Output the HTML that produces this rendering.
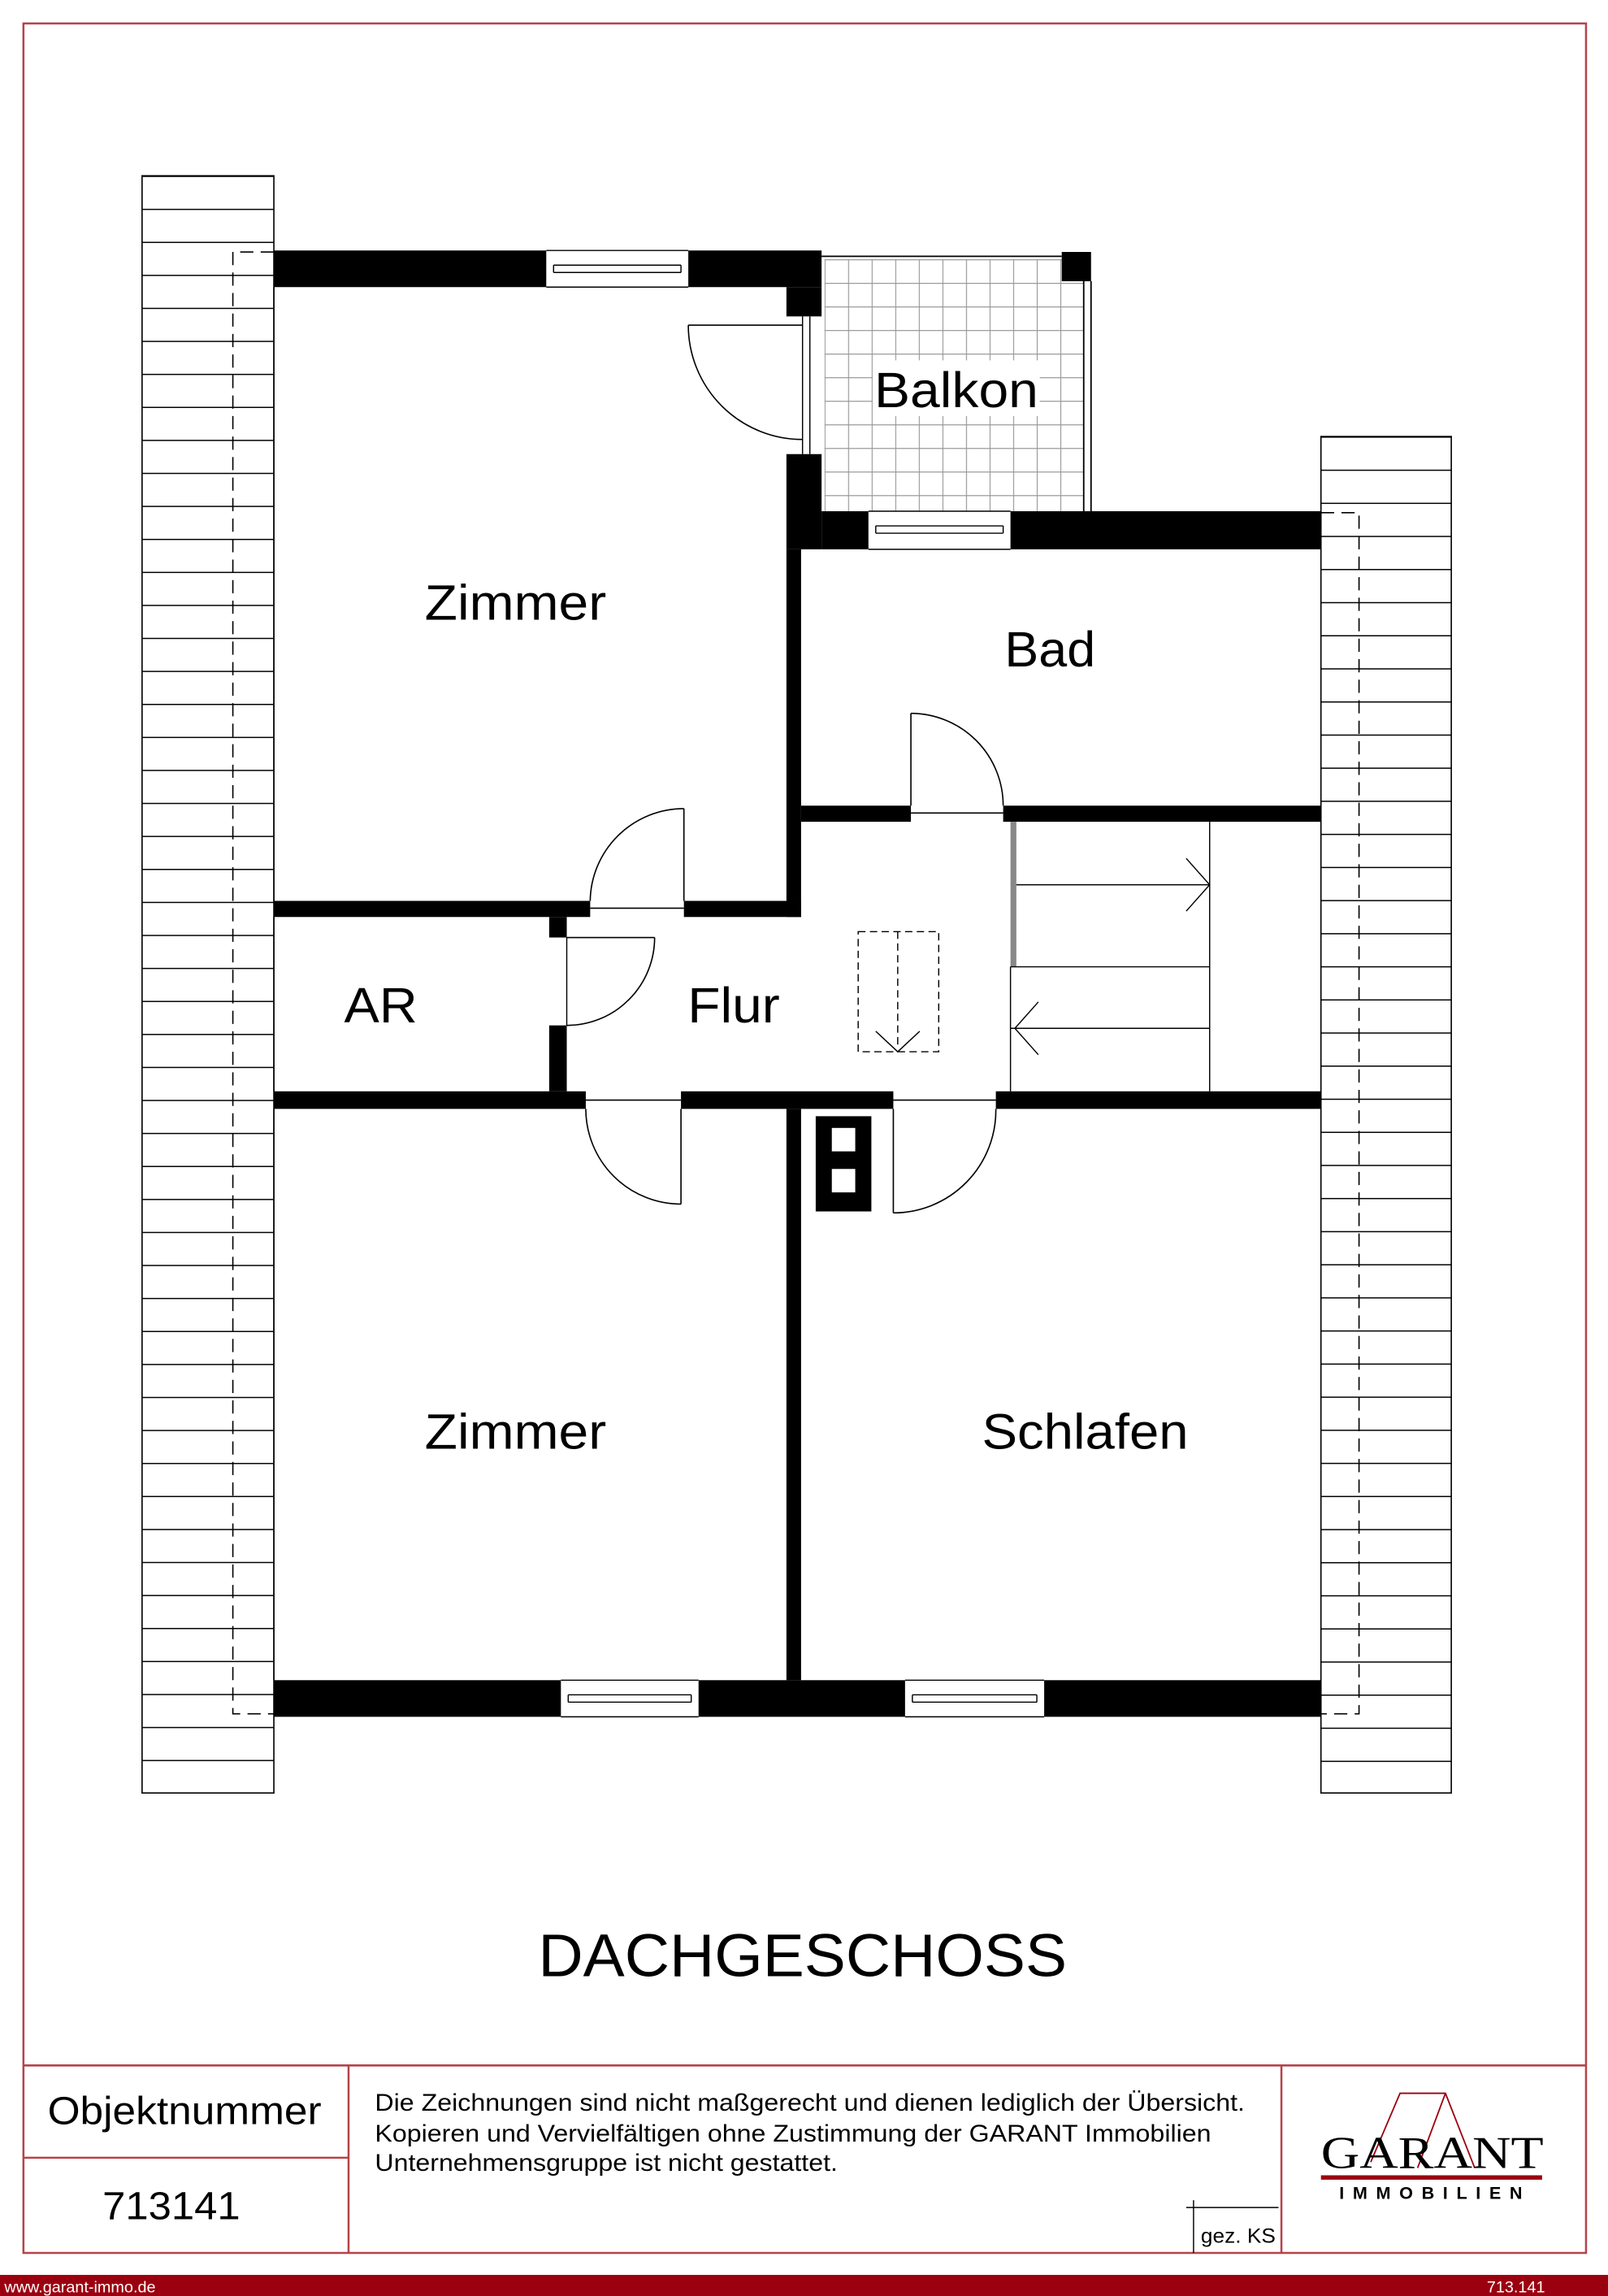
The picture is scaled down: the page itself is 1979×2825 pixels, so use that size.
<!DOCTYPE html>
<html><head><meta charset="utf-8"><style>
html,body{margin:0;padding:0;background:#fff}
svg{display:block}
text{font-family:"Liberation Sans Narrow","Liberation Sans",sans-serif;fill:#000}
</style></head><body>
<svg width="1979" height="2825" viewBox="0 0 1098 1567.4" xmlns="http://www.w3.org/2000/svg">
<defs>
<pattern id="hl" patternUnits="userSpaceOnUse" width="200" height="22.53" patternTransform="translate(0,120)">
<line x1="0" y1="0.4" x2="200" y2="0.4" stroke="#000" stroke-width="0.8"/></pattern>
<pattern id="hr" patternUnits="userSpaceOnUse" width="200" height="22.6" patternTransform="translate(0,298)">
<line x1="0" y1="0.4" x2="200" y2="0.4" stroke="#000" stroke-width="0.8"/></pattern>
<pattern id="tile" patternUnits="userSpaceOnUse" width="16.1" height="16.1" patternTransform="translate(563,177)">
<path d="M0 0.3H16.1M0.3 0V16.1" stroke="#999" stroke-width="0.7" fill="none"/></pattern>
</defs>
<rect x="0" y="0" width="1098" height="1568" fill="#fff"/>
<!-- frame -->
<g stroke="#b5444a" stroke-width="1.4" fill="none">
<rect x="16" y="16" width="1067" height="1522"/>
<line x1="16" y1="1410" x2="1083" y2="1410"/>
<line x1="238" y1="1410" x2="238" y2="1538"/>
<line x1="875" y1="1410" x2="875" y2="1538"/>
<line x1="16" y1="1473" x2="238" y2="1473"/>
</g>
<rect x="0" y="1553" width="1098" height="15" fill="#9b0010"/>
<text x="3" y="1565" font-size="11" style="fill:#fff">www.garant-immo.de</text>
<text x="1055" y="1565" font-size="11" text-anchor="end" style="fill:#fff">713.141</text>

<!-- roof hatches -->
<rect x="97" y="120" width="90" height="1104" fill="url(#hl)" stroke="#000" stroke-width="0.9"/>
<rect x="902" y="298" width="89" height="926" fill="url(#hr)" stroke="#000" stroke-width="0.9"/>
<g stroke="#000" stroke-width="0.9" stroke-dasharray="9,5" fill="none">
<path d="M187 172H159V1170H187"/>
<path d="M902 350H928V1170H902"/>
</g>

<!-- balcony -->
<rect x="563" y="177" width="177" height="172" fill="url(#tile)"/>
<line x1="561" y1="175" x2="725" y2="175" stroke="#000" stroke-width="1"/>
<rect x="725" y="172" width="20" height="20" fill="#000"/>
<line x1="740" y1="192" x2="740" y2="349" stroke="#000" stroke-width="1"/>
<line x1="745" y1="192" x2="745" y2="349" stroke="#000" stroke-width="1"/>
<rect x="596" y="246" width="114" height="38" fill="#fff"/>
<text x="653" y="278" font-size="34" text-anchor="middle" textLength="112" lengthAdjust="spacingAndGlyphs">Balkon</text>

<!-- walls -->
<g fill="#000">
<rect x="187" y="171" width="186" height="25"/>
<rect x="470" y="171" width="91" height="25"/>
<rect x="537" y="196" width="24" height="20"/>
<rect x="537" y="310" width="24" height="65"/>
<rect x="561" y="349" width="32" height="26"/>
<rect x="690" y="349" width="212" height="26"/>
<rect x="537" y="375" width="10" height="251"/>
<rect x="187" y="615" width="216" height="11"/>
<rect x="467" y="615" width="80" height="11"/>
<rect x="547" y="550" width="75" height="11"/>
<rect x="685" y="550" width="217" height="11"/>
<rect x="375" y="626" width="12" height="14"/>
<rect x="375" y="700" width="12" height="45"/>
<rect x="187" y="745" width="213" height="12"/>
<rect x="465" y="745" width="145" height="12"/>
<rect x="680" y="745" width="222" height="12"/>
<rect x="537" y="757" width="10" height="390"/>
<rect x="187" y="1147" width="196" height="25"/>
<rect x="477" y="1147" width="141" height="25"/>
<rect x="713" y="1147" width="189" height="25"/>
<rect x="557" y="762" width="38" height="65"/>
</g>
<rect x="568" y="770" width="16" height="16" fill="#fff"/>
<rect x="568" y="798" width="16" height="16" fill="#fff"/>

<!-- windows -->
<g stroke="#000" stroke-width="0.8" fill="none">
<path d="M373 171H470M373 196H470M378 181H465M378 186H465M378 181V186M465 181V186"/>
<path d="M593 349H690M593 375H690M598 359H685M598 364H685M598 359V364M685 359V364"/>
<path d="M383 1147H477M383 1172H477M388 1157H472M388 1162H472M388 1157V1162M472 1157V1162"/>
<path d="M618 1147H713M618 1172H713M623 1157H708M623 1162H708M623 1157V1162M708 1157V1162"/>
<path d="M548 216V310M553 216V310"/>
<path d="M187 196V615M187 626V745M187 757V1147"/>
<path d="M387 640V700"/>
</g>

<!-- doors -->
<g stroke="#000" stroke-width="0.9" fill="none">
<path d="M470 222H548"/><path d="M470 222A78 78 0 0 0 548 300"/>
<path d="M467 552V615"/><path d="M403 615A64 64 0 0 1 467 552"/>
<path d="M622 487V550"/><path d="M622 487A63 63 0 0 1 685 550"/>
<path d="M387 640H447"/><path d="M447 640A60 60 0 0 1 387 700"/>
<path d="M465 757V822"/><path d="M400 757A65 65 0 0 0 465 822"/>
<path d="M610 757V828"/><path d="M680 757A70 70 0 0 1 610 828"/>
<path d="M403 620H467M622 555H685M400 751H465M610 751H680"/>
</g>

<!-- stairs -->
<rect x="690" y="561" width="4" height="99" fill="#888"/>
<g stroke="#000" stroke-width="0.8" fill="none">
<path d="M826 561V745"/>
<path d="M694 604H826M690 660H826M690 702H826"/>
<path d="M810 586L826 604L810 622"/>
<path d="M709 684L693 702L709 720"/>
<path d="M690 660V745"/>
</g>
<g stroke="#000" stroke-width="0.8" fill="none" stroke-dasharray="5,3">
<rect x="586" y="636" width="55" height="82"/>
<path d="M613 636V716"/>
</g>
<path d="M598 704L613 718L628 704" stroke="#000" stroke-width="0.8" fill="none"/>

<!-- labels -->
<text x="352" y="423" font-size="34" text-anchor="middle" textLength="124" lengthAdjust="spacingAndGlyphs">Zimmer</text>
<text x="717" y="455" font-size="34" text-anchor="middle" textLength="62" lengthAdjust="spacingAndGlyphs">Bad</text>
<text x="260" y="698" font-size="34" text-anchor="middle" textLength="50" lengthAdjust="spacingAndGlyphs">AR</text>
<text x="501" y="698" font-size="34" text-anchor="middle" textLength="63" lengthAdjust="spacingAndGlyphs">Flur</text>
<text x="352" y="989" font-size="34" text-anchor="middle" textLength="124" lengthAdjust="spacingAndGlyphs">Zimmer</text>
<text x="741" y="989" font-size="34" text-anchor="middle" textLength="141" lengthAdjust="spacingAndGlyphs">Schlafen</text>
<text x="548" y="1349" font-size="41" text-anchor="middle" textLength="361" lengthAdjust="spacingAndGlyphs">DACHGESCHOSS</text>

<!-- footer -->
<text x="126" y="1450" font-size="27" text-anchor="middle" textLength="187" lengthAdjust="spacingAndGlyphs">Objektnummer</text>
<text x="117" y="1515" font-size="27" text-anchor="middle" textLength="94" lengthAdjust="spacingAndGlyphs">713141</text>
<text x="256" y="1441" font-size="16.5" textLength="594" lengthAdjust="spacingAndGlyphs">Die Zeichnungen sind nicht maßgerecht und dienen lediglich der Übersicht.</text>
<text x="256" y="1462" font-size="16.5" textLength="571" lengthAdjust="spacingAndGlyphs">Kopieren und Vervielfältigen ohne Zustimmung der GARANT Immobilien</text>
<text x="256" y="1482" font-size="16.5" textLength="316" lengthAdjust="spacingAndGlyphs">Unternehmensgruppe ist nicht gestattet.</text>
<path d="M815 1502V1538M810 1507H873" stroke="#000" stroke-width="0.8"/>
<text x="820" y="1531" font-size="14" textLength="51" lengthAdjust="spacingAndGlyphs">gez. KS</text>

<!-- logo -->
<path d="M936 1476L956 1429H987L1007 1480M987 1429L968 1480" stroke="#9b0010" stroke-width="1" fill="none"/>
<text x="978" y="1480" font-size="31" text-anchor="middle" textLength="152" lengthAdjust="spacingAndGlyphs" style="font-family:'Liberation Serif',serif">GARANT</text>
<rect x="902" y="1485" width="151" height="3" fill="#9b0010"/>
<text x="977" y="1501" font-size="12" text-anchor="middle" textLength="125" lengthAdjust="spacing" font-weight="bold">IMMOBILIEN</text>
</svg>
</body></html>
